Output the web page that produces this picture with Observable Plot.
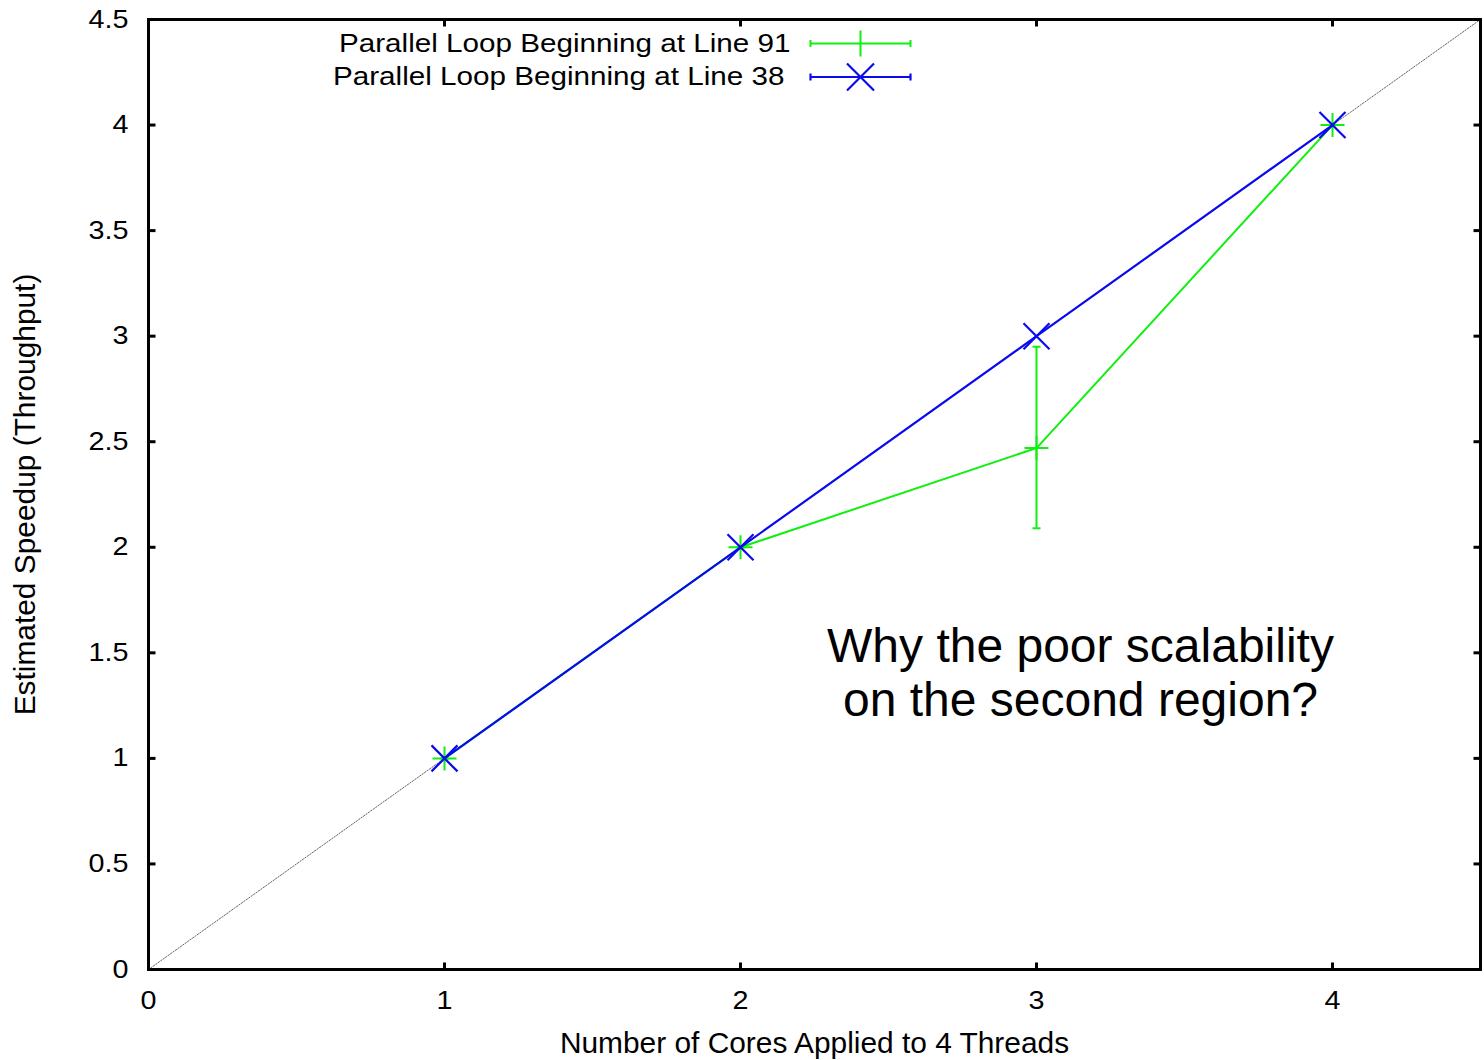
<!DOCTYPE html>
<html>
<head>
<meta charset="utf-8">
<script src="https://cdn.jsdelivr.net/npm/d3@7"></script>
<script src="https://cdn.jsdelivr.net/npm/@observablehq/plot@0.6"></script>
<style>
  html, body { margin: 0; padding: 0; background: #fff; }
  #chart { width: 1484px; height: 1060px; }
</style>
</head>
<body>
<div id="chart"></div>
<script>
// ---- data ----
const cores = [1, 2, 3, 4];
const speedup91 = [1, 2, 2.47, 4];
const err91Low = [1, 2, 2.09, 4];
const err91High = [1, 2, 2.95, 4];
const speedup38 = [1, 2, 3, 4];
const idealLine = [0, 4.5];
const xTicks = [0, 1, 2, 3, 4];
const yTicks = [0, 0.5, 1, 1.5, 2, 2.5, 3, 3.5, 4, 4.5];
const seriesNames = ["Parallel Loop Beginning at Line 91", "Parallel Loop Beginning at Line 38"];
const xLabel = "Number of Cores Applied to 4 Threads";
const yLabel = "Estimated Speedup (Throughput)";
const note = "Why the poor scalability\non the second region?";

const loop91 = cores.map((c, i) => ({x: c, y: speedup91[i], lo: err91Low[i], hi: err91High[i]}));
const loop38 = cores.map((c, i) => ({x: c, y: speedup38[i]}));

const GREEN = "#10f010";
const BLUE = "#0a0aee";

// ---- custom stroked symbols ----
const sym = f => ({draw(c) { f(c); }});
const plusSym = sym(c => { c.moveTo(-12, 0); c.lineTo(12, 0); c.moveTo(0, -12); c.lineTo(0, 12); });
const timesSym = sym(c => { c.moveTo(-13, -13); c.lineTo(13, 13); c.moveTo(-13, 13); c.lineTo(13, -13); });
const capSym = sym(c => { c.moveTo(-4, 0); c.lineTo(4, 0); });
const tickUp = sym(c => { c.moveTo(0, 0); c.lineTo(0, -7); });
const tickDown = sym(c => { c.moveTo(0, 0); c.lineTo(0, 7); });
const tickRight = sym(c => { c.moveTo(0, 0); c.lineTo(7, 0); });
const tickLeft = sym(c => { c.moveTo(0, 0); c.lineTo(-7, 0); });
const keyBase = c => { c.moveTo(-50, 0); c.lineTo(50, 0); c.moveTo(-50, -3.5); c.lineTo(-50, 3.5); c.moveTo(50, -3.5); c.lineTo(50, 3.5); };
const keyGreen = sym(c => { keyBase(c); c.moveTo(0, -13); c.lineTo(0, 13); });
const keyBlue = sym(c => { keyBase(c); c.moveTo(-13.5, -13.5); c.lineTo(13.5, 13.5); c.moveTo(-13.5, 13.5); c.lineTo(13.5, -13.5); });

const fmt = d => `${d}`;

const chart = Plot.plot({
  width: 1484,
  height: 1060,
  marginLeft: 148,
  marginRight: 4,
  marginTop: 19,
  marginBottom: 91,
  style: {fontFamily: "'Liberation Sans', Arial, Helvetica, sans-serif", color: "black", background: "white"},
  x: {domain: [0, 4.5]},
  y: {domain: [0, 4.5]},
  marks: [
    // ideal diagonal
    Plot.line(idealLine, {x: d => d, y: d => d, stroke: "#666", strokeWidth: 1, strokeDasharray: "1.5,1.5"}),
    // series 91 (green) with error bars
    Plot.line(loop91, {x: "x", y: "y", stroke: GREEN, strokeWidth: 2}),
    Plot.ruleX(loop91, {x: "x", y1: "lo", y2: "hi", stroke: GREEN, strokeWidth: 2}),
    Plot.dot(loop91, {x: "x", y: "lo", symbol: capSym, fill: "none", stroke: GREEN, strokeWidth: 2}),
    Plot.dot(loop91, {x: "x", y: "hi", symbol: capSym, fill: "none", stroke: GREEN, strokeWidth: 2}),
    Plot.dot(loop91, {x: "x", y: "y", symbol: plusSym, fill: "none", stroke: GREEN, strokeWidth: 2}),
    // series 38 (blue)
    Plot.line(loop38, {x: "x", y: "y", stroke: BLUE, strokeWidth: 2.2}),
    Plot.dot(loop38, {x: "x", y: "y", symbol: timesSym, fill: "none", stroke: BLUE, strokeWidth: 2.2}),
    // frame and inward ticks on all sides
    Plot.frame({stroke: "black", strokeWidth: 3}),
    Plot.dot(xTicks, {x: d => d, frameAnchor: "bottom", symbol: tickUp, fill: "none", stroke: "black", strokeWidth: 3}),
    Plot.dot(xTicks, {x: d => d, frameAnchor: "top", symbol: tickDown, fill: "none", stroke: "black", strokeWidth: 3}),
    Plot.dot(yTicks, {y: d => d, frameAnchor: "left", symbol: tickRight, fill: "none", stroke: "black", strokeWidth: 3}),
    Plot.dot(yTicks, {y: d => d, frameAnchor: "right", symbol: tickLeft, fill: "none", stroke: "black", strokeWidth: 3}),
    // tick labels
    Plot.axisX({ticks: xTicks, tickFormat: fmt, tickSize: 0, tickPadding: 22, fontSize: 25, label: null}),
    Plot.axisY({ticks: yTicks, tickFormat: fmt, tickSize: 0, tickPadding: 20, fontSize: 25, label: null}),
    // axis titles
    Plot.text([xLabel], {frameAnchor: "bottom", dy: 63, lineAnchor: "top", textAnchor: "middle", fontSize: 29, fill: "black"}),
    Plot.text([yLabel], {frameAnchor: "left", dx: -134.5, rotate: -90, lineAnchor: "top", textAnchor: "middle", fontSize: 29, fill: "black"}),
    // annotation
    Plot.text([note], {frameAnchor: "top-left", dx: 932, dy: 652, textAnchor: "middle", lineAnchor: "middle", lineHeight: 1.12, fontSize: 48, fill: "black"}),
    // legend
    Plot.text([seriesNames[0]], {frameAnchor: "top-left", dx: 642, dy: 24, textAnchor: "end", lineAnchor: "middle", fontSize: 26, fill: "black"}),
    Plot.text([seriesNames[1]], {frameAnchor: "top-left", dx: 636, dy: 57.5, textAnchor: "end", lineAnchor: "middle", fontSize: 26, fill: "black"}),
    Plot.dot([seriesNames[0]], {frameAnchor: "top-left", dx: 712, dy: 24, symbol: keyGreen, fill: "none", stroke: GREEN, strokeWidth: 2}),
    Plot.dot([seriesNames[1]], {frameAnchor: "top-left", dx: 712, dy: 57.5, symbol: keyBlue, fill: "none", stroke: BLUE, strokeWidth: 2.2})
  ]
});

document.getElementById("chart").appendChild(chart);

// The original's Helvetica is a bit wider than Liberation Sans: widen small texts in place
function widenEl(t, k) {
  const w = t.getComputedTextLength();
  if (w > 0) {
    t.setAttribute("textLength", (w * k).toFixed(2));
    t.setAttribute("lengthAdjust", "spacingAndGlyphs");
  }
}
chart.querySelectorAll('g[aria-label="x-axis tick label"] text, g[aria-label="y-axis tick label"] text')
  .forEach(t => widenEl(t, 1.15));
chart.querySelectorAll("text").forEach(t => {
  const s = t.textContent;
  if (seriesNames.includes(s)) widenEl(t, 1.14);
  else if (s === xLabel || s === yLabel) widenEl(t, 1.03);
});
</script>
</body>
</html>
